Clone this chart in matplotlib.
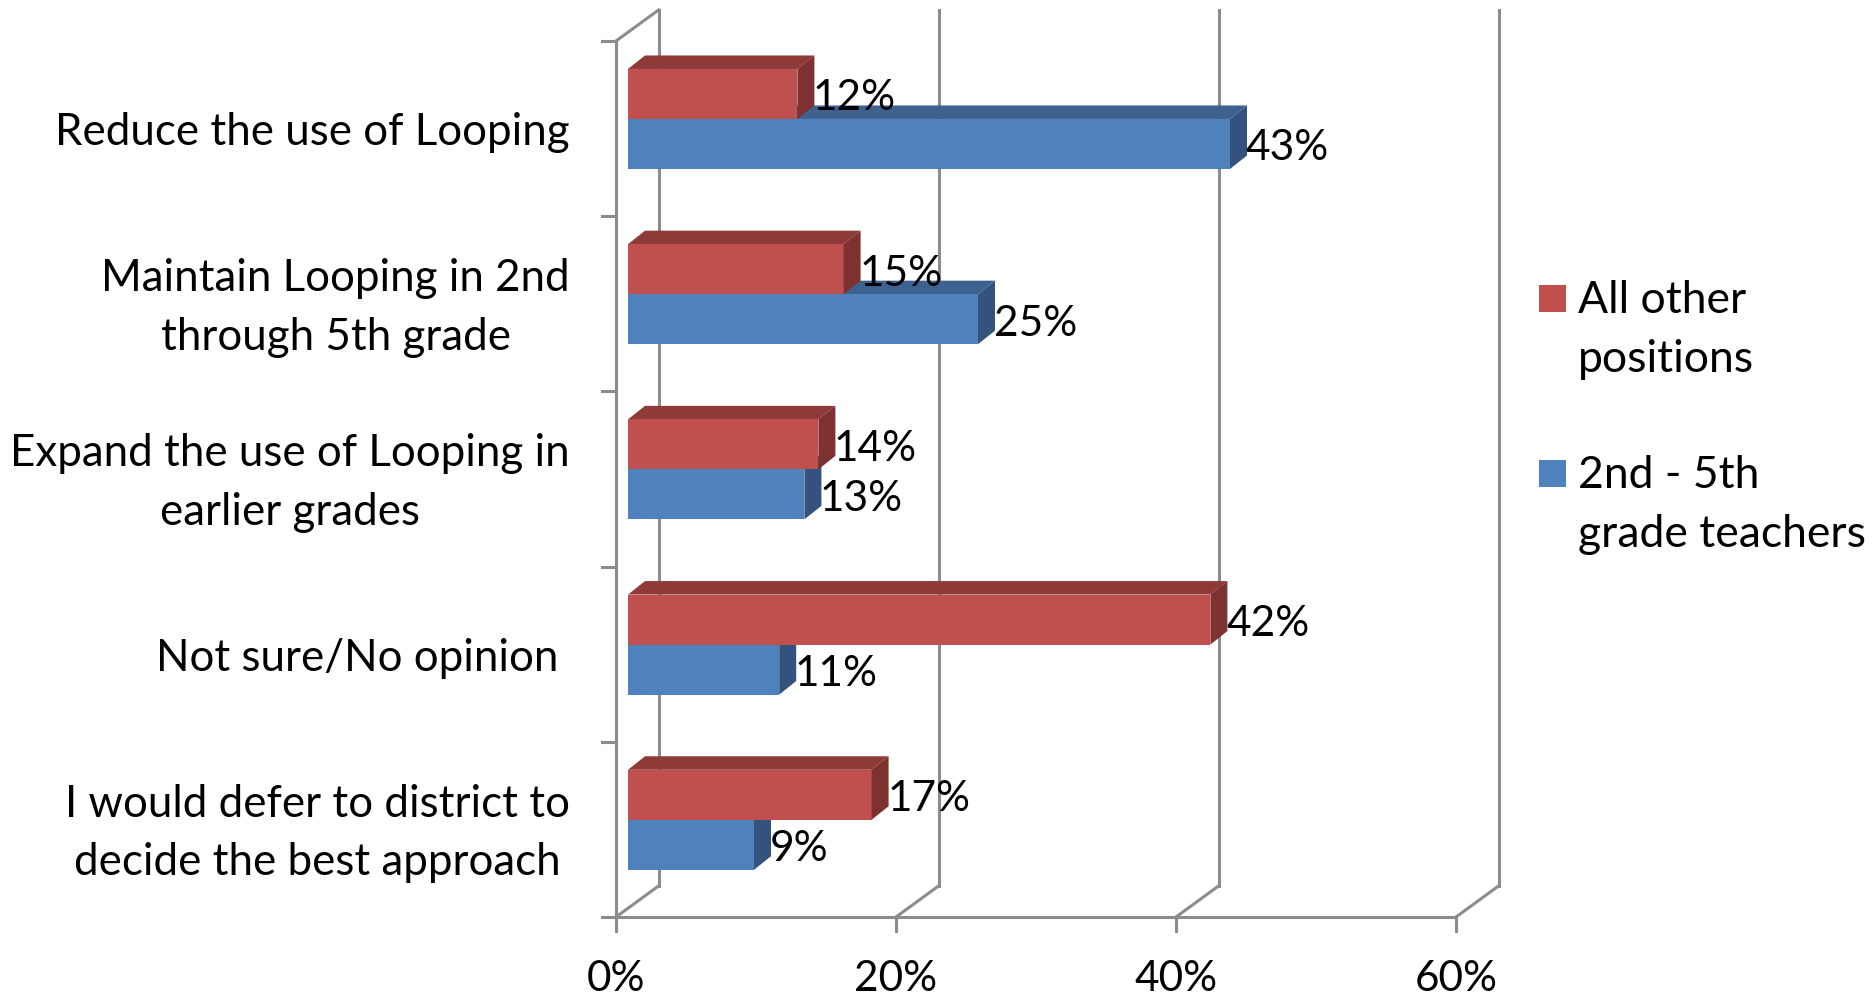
import matplotlib
matplotlib.use("Agg")
import matplotlib.pyplot as plt
from matplotlib.patches import Rectangle

plt.rcParams['font.family'] = ['Lato', 'DejaVu Sans']

categorias = ["Reduce the use of Looping",
              "Maintain Looping in 2nd\nthrough 5th grade",
              "Expand the use of Looping in\nearlier grades",
              "Not sure/No opinion ",
              "I would defer to district to\ndecide the best approach"]
otros = [12.1, 15.4, 13.6, 41.6, 17.4]
maestros = [43.0, 25.0, 12.6, 10.8, 9.0]
ticks_x = [0, 20, 40, 60]
leyenda = ["All other\npositions", "2nd - 5th\ngrade teachers"]

# colores: frente, arriba, lado
rojo = ("#C0504D", "#8E3A38", "#7D3230")
azul = ("#4F81BD", "#3E6290", "#33537E")
gris = "#8C8C8C"
W, H = 1876, 997
FS_CAT = 31.6
FS_NUM = 30.5
FS_LEY = 32

fig = plt.figure(figsize=(W / 100, H / 100), dpi=100)
ax = fig.add_axes([616 / W, 1 - 917 / H, 840 / W, 876 / H])
ax.set_xlim(0, 60)
ax.set_ylim(5, 0)
ax.axis("off")

# perspectiva en unidades de datos
px_x = 840 / 60
px_y = 876 / 5
fondo_x, fondo_y = 42.5 / px_x, 31 / px_y
prof_x, prof_y = 17 / px_x, 13.5 / px_y
inicio = 12 / px_x
alto = 50 / px_y
medio = 0.445


def linea(x, y, lw=2.2):
    ax.plot(x, y, color=gris, lw=lw, clip_on=False, zorder=1, solid_capstyle="projecting")


# paredes y rejilla
for t in ticks_x:
    linea([t + fondo_x, t + fondo_x], [5 - fondo_y, 0 - fondo_y])
    linea([t, t + fondo_x], [5, 5 - fondo_y])
    linea([t, t], [5, 5 + 14 / px_y])
    ax.text(t, 5 + 62 / px_y, f"{t}%", ha="center", va="center", fontsize=FS_NUM, clip_on=False)
linea([0, 0], [0, 5])
linea([0, 60], [5, 5])
linea([0, fondo_x], [0, -fondo_y])
for i in range(6):
    linea([-14 / px_x, 0], [i, i])


def barra(valor, y_sup, col):
    x1 = inicio + valor
    ax.barh(y_sup + alto / 2, valor, height=alto, left=inicio, color=col[0], zorder=3)
    # cara superior
    ax.fill([inicio, x1, x1 + prof_x, inicio + prof_x],
            [y_sup, y_sup, y_sup - prof_y, y_sup - prof_y], color=col[1], lw=0, zorder=2)
    # cara lateral
    ax.fill([x1, x1 + prof_x, x1 + prof_x, x1],
            [y_sup, y_sup - prof_y, y_sup + alto - prof_y, y_sup + alto], color=col[2], lw=0, zorder=3)
    ax.text(x1 + prof_x - 0.1, y_sup + alto / 2 + 4.5 / px_y, f"{round(valor)}%",
            ha="left", va="center", fontsize=FS_NUM, zorder=5)


for i, cat in enumerate(categorias):
    y0 = i + medio
    barra(maestros[i], y0, azul)
    barra(otros[i], y0 - alto, rojo)
    ax.text(-46 / px_x, i + 0.5 + 4 / px_y, cat, ha="right", va="center", multialignment="center",
            fontsize=FS_CAT, linespacing=1.53, clip_on=False)

# leyenda
for txt, col, y in zip(leyenda, [rojo, azul], [285, 460]):
    fig.add_artist(Rectangle((1539 / W, 1 - (y + 27) / H), 27 / W, 27 / H,
                             transform=fig.transFigure, color=col[0], lw=0))
    fig.text(1578 / W, 1 - (y + 45) / H, txt, ha="left", va="center", fontsize=FS_LEY, linespacing=1.53)

fig.savefig("out.png", dpi=100)
